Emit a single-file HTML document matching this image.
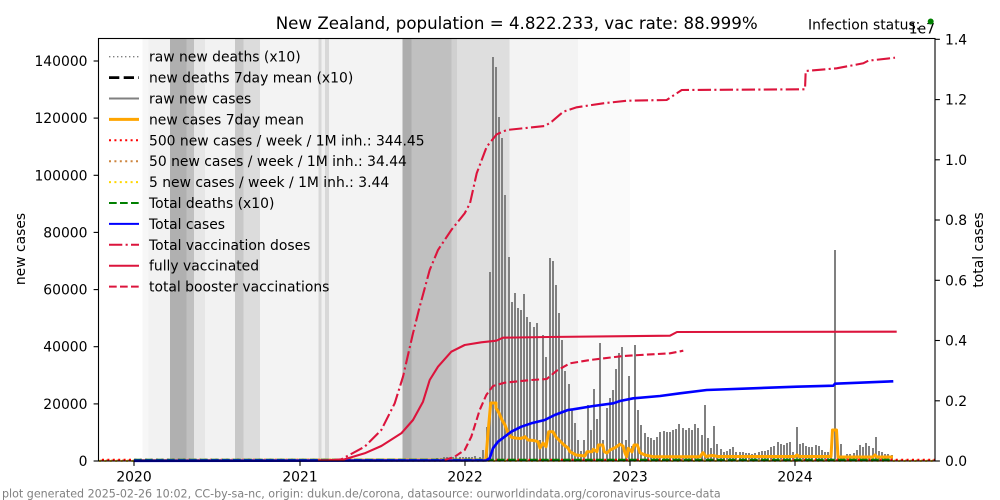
<!DOCTYPE html>
<html><head><meta charset="utf-8"><style>
html,body{margin:0;padding:0;background:#fff;}
svg{display:block;font-family:"DejaVu Sans","Liberation Sans",sans-serif;}
</style></head><body>
<svg width="1000" height="500" viewBox="0 0 1000 500" xmlns="http://www.w3.org/2000/svg">
<rect x="0" y="0" width="1000" height="500" fill="#fff"/>
<!-- background bands -->
<g shape-rendering="crispEdges">
<rect x="142.7" y="38.5" width="5.6" height="422.5" fill="#f7f7f7"/>
<rect x="148.3" y="38.5" width="21.7" height="422.5" fill="#f2f2f2"/>
<rect x="170" y="38.5" width="16.7" height="422.5" fill="#b0b0b0"/>
<rect x="186.7" y="38.5" width="7.3" height="422.5" fill="#c0c0c0"/>
<rect x="194" y="38.5" width="11" height="422.5" fill="#e6e6e6"/>
<rect x="205" y="38.5" width="30" height="422.5" fill="#f2f2f2"/>
<rect x="235" y="38.5" width="8.3" height="422.5" fill="#c8c8c8"/>
<rect x="243.3" y="38.5" width="16.7" height="422.5" fill="#dcdcdc"/>
<rect x="260" y="38.5" width="58.3" height="422.5" fill="#f3f3f3"/>
<rect x="318.3" y="38.5" width="3.4" height="422.5" fill="#d8d8d8"/>
<rect x="321.7" y="38.5" width="3.3" height="422.5" fill="#f0f0f0"/>
<rect x="325" y="38.5" width="4" height="422.5" fill="#d8d8d8"/>
<rect x="329" y="38.5" width="73.3" height="422.5" fill="#f3f3f3"/>
<rect x="402.3" y="38.5" width="9.4" height="422.5" fill="#adadad"/>
<rect x="411.7" y="38.5" width="40" height="422.5" fill="#c0c0c0"/>
<rect x="451.7" y="38.5" width="5.3" height="422.5" fill="#d0d0d0"/>
<rect x="457" y="38.5" width="52.7" height="422.5" fill="#dedede"/>
<rect x="509.7" y="38.5" width="68.3" height="422.5" fill="#f3f3f3"/>
<rect x="578" y="38.5" width="52" height="422.5" fill="#fafafa"/>
</g>
<!-- bars -->
<path fill="#808080" shape-rendering="crispEdges" d="
M436,461V458h2V461z M440,461V458h2V461z M443,461V457h2V461z M446,461V457h2V461z M449,461V458h2V461z M452,461V457h2V461z M455,461V457h2V461z M459,461V457h2V461z M462,461V457h2V461z M465,461V457h2V461z M468,461V457h2V461z M471,461V457h2V461z M474,461V456h2V461z
M479,461V457h2V461z M482,461V450h2V461z M486,461V427h2V461z M489,461V272h2V461z M492,461V57h2V461z M495,461V67h2V461z M498,461V117h2V461z M501,461V138h2V461z M504,461V195h2V461z M508,461V257h2V461z M511,461V302h2V461z M514,461V293h2V461z M517,461V308h2V461z M520,461V310h2V461z M523,461V294h2V461z M526,461V317h2V461z M529,461V322h2V461z M533,461V327h2V461z M536,461V323h2V461z M539,461V440h2V461z M542,461V335h2V461z M545,461V357h2V461z M549,461V258h2V461z M552,461V261h2V461z M555,461V285h2V461z M558,461V313h2V461z M561,461V340h2V461z M564,461V371h2V461z M568,461V384h2V461z M571,461V410h2V461z M574,461V423h2V461z M577,461V440h2V461z M580,461V451h2V461z M583,461V440h2V461z M587,461V405h2V461z M590,461V430h2V461z M593,461V389h2V461z M596,461V419h2V461z M599,461V343h2V461z M602,461V440h2V461z M606,461V408h2V461z M609,461V398h2V461z M612,461V390h2V461z M615,461V369h2V461z M618,461V353h2V461z M621,461V347h2V461z M625,461V440h2V461z M628,461V376h2V461z M631,461V446h2V461z M634,461V345h2V461z M637,461V410h2V461z M640,461V425h2V461z M644,461V433h2V461z M647,461V437h2V461z M650,461V438h2V461z M653,461V440h2V461z M656,461V437h2V461z M659,461V432h2V461z M663,461V431h2V461z M666,461V432h2V461z M669,461V432h2V461z M672,461V430h2V461z M675,461V429h2V461z M678,461V424h2V461z M682,461V428h2V461z M685,461V430h2V461z M688,461V428h2V461z M691,461V430h2V461z M694,461V424h2V461z M697,461V428h2V461z M701,461V435h2V461z M704,461V405h2V461z M707,461V438h2V461z M710,461V448h2V461z M713,461V426h2V461z M716,461V444h2V461z M720,461V449h2V461z M723,461V452h2V461z M726,461V451h2V461z M729,461V449h2V461z M732,461V447h2V461z M735,461V452h2V461z M739,461V452h2V461z M742,461V452h2V461z M745,461V453h2V461z M748,461V453h2V461z M751,461V454h2V461z M754,461V453h2V461z M758,461V452h2V461z M761,461V451h2V461z M764,461V451h2V461z M767,461V450h2V461z M770,461V447h2V461z M773,461V446h2V461z M777,461V442h2V461z M780,461V444h2V461z M783,461V445h2V461z M786,461V443h2V461z M789,461V442h2V461z M792,461V452h2V461z M796,461V427h2V461z M799,461V444h2V461z M802,461V443h2V461z M805,461V446h2V461z M808,461V447h2V461z M811,461V447h2V461z M815,461V445h2V461z M818,461V446h2V461z M821,461V450h2V461z M824,461V452h2V461z M827,461V452h2V461z M830,461V455h2V461z M834,461V250h2V461z M837,461V452h2V461z M840,461V444h2V461z M843,461V458h2V461z M846,461V454h2V461z M849,461V454h2V461z M853,461V453h2V461z M856,461V450h2V461z M859,461V445h2V461z M862,461V447h2V461z M865,461V443h2V461z M868,461V446h2V461z M872,461V448h2V461z M875,461V437h2V461z M878,461V451h2V461z M881,461V452h2V461z M884,461V454h2V461z M887,461V454h2V461z M891,461V455h2V461z"/>

<!-- threshold dotted lines -->
<line x1="99" y1="460.9" x2="935" y2="460.9" stroke="#ffd700" stroke-width="2" stroke-dasharray="2,3.4"/>
<line x1="100.5" y1="460.5" x2="935" y2="460.5" stroke="#cd853f" stroke-width="2" stroke-dasharray="2,3.4"/>
<line x1="102" y1="459.7" x2="935" y2="459.7" stroke="#ff0000" stroke-width="2" stroke-dasharray="2,3.4"/>

<!-- orange 7day mean -->
<polyline fill="none" stroke="#ffa500" stroke-width="3" stroke-linejoin="round" points="134,460.5 486,460 486,458 488,433 490.7,403 496,403 496,408 499,413 502,420 505,425 508,433 511,437 515,438 520,438.5 524,437.5 525,436.7 528,440 534,440.5 538,441.7 540,448 543,443 546,446.7 548.7,431.7 553,431.7 556,437 559,440 564,445 568,448 570,451.7 576,455 585,456 587,451.7 592,451.7 593.3,449.3 597,451.7 598.3,445 602.7,445 604.3,451.7 607,453 610,450 615,447.7 620,444.3 623,446 625,453 626.7,456.7 628.3,448.3 632,452 634,445 637.3,445 640,452.7 645,455 653,456.7 700,456.7 703,452.7 706,456.5 712,455.5 718,456.5 795,456.5 797,455 799,456.5 831,456.5 832.5,430 836.5,430 838,457 873,457 875,455 877,457 893,457"/>

<!-- green dashed total deaths -->
<line x1="134" y1="459.8" x2="893" y2="459.8" stroke="#008000" stroke-width="2" stroke-dasharray="7.7,3.3"/>

<!-- blue total cases -->
<polyline fill="none" stroke="#0000ff" stroke-width="2.6" stroke-linejoin="round" points="134,460.8 486,460.5 489.7,458.3 493,448.3 498,441.7 504.7,436.7 511.3,431.7 521.3,426.7 531.3,423.3 544.7,420 554.7,415 568,410 573.3,409.3 593.3,406 613.3,403.3 620,401 633.3,398.3 660,396 680,393.3 706.7,390 753,388.3 796.7,386.7 833.3,385.7 835,383.7 893.3,381.3"/>

<!-- fully vaccinated -->
<polyline fill="none" stroke="#dc143c" stroke-width="2.1" stroke-linejoin="round" points="318,460.5 330,460.3 344.7,459.3 364.7,453.3 381.3,446 401.3,433.3 413,420 423,401.7 429.7,380 438,366.7 451.3,351.7 464.7,345 481.3,342.3 496.3,340.7 503,337.7 548,337 670,335.7 677,332 896.7,331.7"/>

<!-- booster dashed -->
<polyline fill="none" stroke="#dc143c" stroke-width="2.1" stroke-dasharray="7.7,3.3" points="444.7,460 454.7,456.7 464.7,450 471.3,436.7 479.7,410 486.3,395 493,386 504.7,382.7 531.3,380 546.7,379 556.7,370.7 570,363.3 590,360 623.3,356 640,355 670,353.3 683.3,350.7"/>

<!-- total vaccination doses dashdot -->
<polyline fill="none" stroke="#dc143c" stroke-width="2.1" stroke-dasharray="13.3,3.3,2.1,3.3" points="330,460.5 341.3,459.3 364.7,446.7 381.3,430 394.7,403.3 403,376.7 413,333.3 419.7,306.7 429.7,270 438,250 451.3,230 464.7,213.3 470,203.3 476.7,173.3 486.7,146.7 496.7,134.3 506.7,130 545,126 551.7,121.7 563.3,111.7 576.7,107.3 603.3,103.3 626.7,100.7 666.7,100 681.7,90 805,89.3 805.7,71 836.7,68.3 863.3,63.3 868.3,60.7 895,57.7"/>

<!-- axes frame -->
<rect x="98.5" y="38.5" width="836.5" height="422.5" fill="none" stroke="#000" stroke-width="1.1"/>

<!-- left ticks -->
<g stroke="#000" stroke-width="1.1">
<line x1="93.6" y1="461" x2="98.5" y2="461"/>
<line x1="93.6" y1="403.9" x2="98.5" y2="403.9"/>
<line x1="93.6" y1="346.7" x2="98.5" y2="346.7"/>
<line x1="93.6" y1="289.6" x2="98.5" y2="289.6"/>
<line x1="93.6" y1="232.4" x2="98.5" y2="232.4"/>
<line x1="93.6" y1="175.3" x2="98.5" y2="175.3"/>
<line x1="93.6" y1="118.1" x2="98.5" y2="118.1"/>
<line x1="93.6" y1="61" x2="98.5" y2="61"/>
<!-- right ticks -->
<line x1="935" y1="461" x2="939.9" y2="461"/>
<line x1="935" y1="400.8" x2="939.9" y2="400.8"/>
<line x1="935" y1="340.5" x2="939.9" y2="340.5"/>
<line x1="935" y1="280.3" x2="939.9" y2="280.3"/>
<line x1="935" y1="220" x2="939.9" y2="220"/>
<line x1="935" y1="159.8" x2="939.9" y2="159.8"/>
<line x1="935" y1="99.6" x2="939.9" y2="99.6"/>
<line x1="935" y1="39.3" x2="939.9" y2="39.3"/>
<!-- x ticks -->
<line x1="134" y1="461" x2="134" y2="465.9"/>
<line x1="300" y1="461" x2="300" y2="465.9"/>
<line x1="465" y1="461" x2="465" y2="465.9"/>
<line x1="630" y1="461" x2="630" y2="465.9"/>
<line x1="795" y1="461" x2="795" y2="465.9"/>
</g>

<g font-size="13.9" fill="#000">
<g text-anchor="end">
<text x="87.5" y="466">0</text>
<text x="87.5" y="408.9">20000</text>
<text x="87.5" y="351.7">40000</text>
<text x="87.5" y="294.6">60000</text>
<text x="87.5" y="237.4">80000</text>
<text x="87.5" y="180.3">100000</text>
<text x="87.5" y="123.1">120000</text>
<text x="87.5" y="66">140000</text>
</g>
<text x="945" y="466">0.0</text>
<text x="945" y="405.8">0.2</text>
<text x="945" y="345.5">0.4</text>
<text x="945" y="285.3">0.6</text>
<text x="945" y="225">0.8</text>
<text x="945" y="164.8">1.0</text>
<text x="945" y="104.6">1.2</text>
<text x="945" y="44.3">1.4</text>
<text x="935" y="33.3" text-anchor="end">1e7</text>
<g text-anchor="middle">
<text x="134" y="481.7">2020</text>
<text x="300" y="481.7">2021</text>
<text x="465" y="481.7">2022</text>
<text x="630" y="481.7">2023</text>
<text x="795" y="481.7">2024</text>
</g>
<text transform="translate(25,249) rotate(-90)" text-anchor="middle">new cases</text>
<text transform="translate(983,250) rotate(-90)" text-anchor="middle">total cases</text>
<text x="808" y="29.3">Infection status: </text>
</g>
<circle cx="930.7" cy="21.5" r="3" fill="#008000"/>

<text x="516.7" y="29" font-size="16.67" text-anchor="middle" fill="#000">New Zealand, population = 4.822.233, vac rate: 88.999%</text>

<text x="2" y="497.5" font-size="11.1" fill="#808080">plot generated 2025-02-26 10:02, CC-by-sa-nc, origin: dukun.de/corona, datasource: ourworldindata.org/coronavirus-source-data</text>

<!-- legend -->
<g>
<line x1="109" y1="56.7" x2="139" y2="56.7" stroke="#808080" stroke-width="1.4" stroke-dasharray="1.4,2.6"/>
<line x1="109" y1="77.6" x2="139" y2="77.6" stroke="#000" stroke-width="2.8" stroke-dasharray="10.3,4.4"/>
<line x1="109" y1="98.5" x2="139" y2="98.5" stroke="#808080" stroke-width="2"/>
<line x1="109" y1="119.4" x2="139" y2="119.4" stroke="#ffa500" stroke-width="3"/>
<line x1="109" y1="140.3" x2="139" y2="140.3" stroke="#ff0000" stroke-width="2" stroke-dasharray="2,3.4"/>
<line x1="109" y1="161.2" x2="139" y2="161.2" stroke="#cd853f" stroke-width="2" stroke-dasharray="2,3.4"/>
<line x1="109" y1="182.1" x2="139" y2="182.1" stroke="#ffd700" stroke-width="2" stroke-dasharray="2,3.4"/>
<line x1="109" y1="203" x2="139" y2="203" stroke="#008000" stroke-width="2" stroke-dasharray="7.7,3.3"/>
<line x1="109" y1="223.9" x2="139" y2="223.9" stroke="#0000ff" stroke-width="2"/>
<line x1="109" y1="244.8" x2="139" y2="244.8" stroke="#dc143c" stroke-width="2" stroke-dasharray="13.3,3.3,2.1,3.3"/>
<line x1="109" y1="265.7" x2="139" y2="265.7" stroke="#dc143c" stroke-width="2"/>
<line x1="109" y1="286.6" x2="139" y2="286.6" stroke="#dc143c" stroke-width="2" stroke-dasharray="7.7,3.3"/>
</g>
<g font-size="13.9" fill="#000">
<text x="149" y="61.7">raw new deaths (x10)</text>
<text x="149" y="82.6">new deaths 7day mean (x10)</text>
<text x="149" y="103.5">raw new cases</text>
<text x="149" y="124.4">new cases 7day mean</text>
<text x="149" y="145.3">500 new cases / week / 1M inh.: 344.45</text>
<text x="149" y="166.2">50 new cases / week / 1M inh.: 34.44</text>
<text x="149" y="187.1">5 new cases / week / 1M inh.: 3.44</text>
<text x="149" y="208">Total deaths (x10)</text>
<text x="149" y="228.9">Total cases</text>
<text x="149" y="249.8">Total vaccination doses</text>
<text x="149" y="270.7">fully vaccinated</text>
<text x="149" y="291.6">total booster vaccinations</text>
</g>
</svg>
</body></html>
